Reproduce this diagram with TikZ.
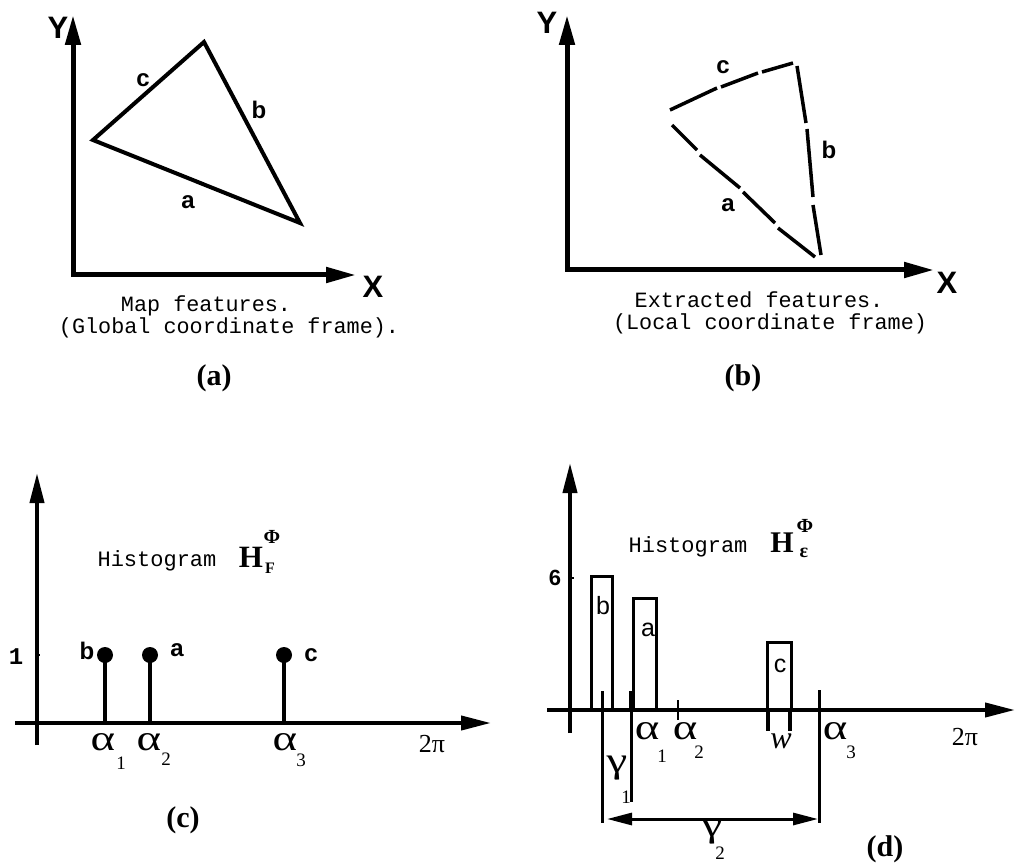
\documentclass[tikz,border=0pt]{standalone}
\usepackage{fontspec}
\setmainfont{Liberation Serif}
\setsansfont{Liberation Sans}
\setmonofont{Liberation Mono}
\usetikzlibrary{arrows.meta}
\newcommand{\fs}[1]{\fontsize{#1}{#1}\selectfont}
\newcommand{\wideg}[1]{\scalebox{1.3}[1]{#1}}
\begin{document}
\begin{tikzpicture}[x=1pt,y=-1pt,
  axispair/.style={line width=5pt,line join=miter,{Triangle[length=30pt,width=15pt]}-{Triangle[length=30pt,width=15pt]}},
  axisone/.style={line width=4pt,-{Triangle[length=30pt,width=14pt]}},
  edge/.style={line width=4pt,line join=miter},
  dashseg/.style={line width=3.5pt},
  stem/.style={line width=3.3pt},
  dot/.style={circle,fill=black,inner sep=0pt,minimum size=16pt},
  bar/.style={line width=3pt,line join=miter},
  markline/.style={line width=3pt},
  txt/.style={inner sep=0pt},
  axlab/.style={txt,font=\sffamily\bfseries\fs{31}},
  edgelab/.style={txt,font=\sffamily\bfseries\fs{24}},
  barlab/.style={txt,font=\sffamily\fs{25}},
  captxt/.style={txt,anchor=base,font=\ttfamily\fs{21.8}},
  panel/.style={txt,font=\bfseries\fs{30}},
  greek/.style={txt,font=\fs{36}},
  sub/.style={txt,font=\fs{19}},
  twopi/.style={txt,font=\fs{26}}]
\useasboundingbox (0,0) rectangle (1016,866);

% ---------- panel (a) ----------
\coordinate (aY) at (73,15);
\coordinate (aO) at (73,275);
\coordinate (aX) at (356,275);
\draw[axispair] (aY) -- (aO) -- (aX);
\node[axlab] (aYl) at (58,28) {Y};
\node[axlab] (aXl) at (373,287) {X};
\coordinate (t1) at (93,140);
\coordinate (t2) at (204,42);
\coordinate (t3) at (300,223);
\draw[edge] (t1) -- (t2) -- (t3) -- cycle;
\node[edgelab] (ac) at (143,80) {c};
\node[edgelab] (ab) at (259,110) {b};
\node[edgelab] (aa) at (188,202) {a};
\node[captxt] (acap1) at (206,312) {Map features.};
\node[captxt] (acap2) at (229,333) {(Global coordinate frame).};
\node[panel] (alab) at (214,378) {(a)};

% ---------- panel (b) ----------
\coordinate (bY) at (567,15);
\coordinate (bO) at (567,270);
\coordinate (bX) at (934,270);
\draw[axispair] (bY) -- (bO) -- (bX);
\node[axlab] (bYl) at (547,23) {Y};
\node[axlab] (bXl) at (947,283) {X};
% edge c
\coordinate (c1) at (670,110); \coordinate (c2) at (717,88);
\coordinate (c3) at (721,87);  \coordinate (c4) at (758,73);
\coordinate (c5) at (762,72);  \coordinate (c6) at (793,63);
\draw[dashseg] (c1) -- (c2);
\draw[dashseg] (c3) -- (c4);
\draw[dashseg] (c5) -- (c6);
% edge b
\coordinate (b1) at (797,66);  \coordinate (b2) at (806,123);
\coordinate (b3) at (807,129); \coordinate (b4) at (813,197);
\coordinate (b5) at (813,205); \coordinate (b6) at (821,255);
\draw[dashseg] (b1) -- (b2);
\draw[dashseg] (b3) -- (b4);
\draw[dashseg] (b5) -- (b6);
% edge a
\coordinate (a1) at (672,125); \coordinate (a2) at (697,150);
\coordinate (a3) at (700,155); \coordinate (a4) at (740,188);
\coordinate (a5) at (743,192); \coordinate (a6) at (775,223);
\coordinate (a7) at (778,228); \coordinate (a8) at (815,257);
\draw[dashseg] (a1) -- (a2);
\draw[dashseg] (a3) -- (a4);
\draw[dashseg] (a5) -- (a6);
\draw[dashseg] (a7) -- (a8);
\node[edgelab] (bc) at (723,67) {c};
\node[edgelab] (bb) at (829,150) {b};
\node[edgelab] (ba) at (728,205) {a};
\node[captxt] (bcap1) at (759,308) {Extracted features.};
\node[captxt] (bcap2) at (770,329) {(Local coordinate frame)};
\node[panel] (blab) at (743,378) {(b)};

% ---------- panel (c) ----------
\coordinate (cYb) at (37,745);
\coordinate (cYt) at (37,473);
\coordinate (cXl) at (15,723);
\coordinate (cXr) at (491,723);
\draw[axisone] (cYb) -- (cYt);
\draw[axisone] (cXl) -- (cXr);
\coordinate (one) at (37,655);
\draw[line width=1.5pt] (one) -- ++(3,0);
\coordinate (s1) at (105,723);
\coordinate (s2) at (150,723);
\coordinate (s3) at (284,723);
\node[dot] (p1) at (105,655) {};
\node[dot] (p2) at (150,655) {};
\node[dot] (p3) at (284,655) {};
\draw[stem] (s1) -- (p1.center);
\draw[stem] (s2) -- (p2.center);
\draw[stem] (s3) -- (p3.center);
\node[txt,font=\ttfamily\bfseries\fs{24}] (cone) at (16,657) {1};
\node[edgelab] (cb) at (87,651) {b};
\node[edgelab] (ca) at (177,650) {a};
\node[edgelab] (cc) at (311,655) {c};
\node[greek] (ca1) at (103,742) {\wideg{α}};
\node[sub] (ca1s) at (121,763) {1};
\node[greek] (ca2) at (149,742) {\wideg{α}};
\node[sub] (ca2s) at (166,759) {2};
\node[greek] (ca3) at (285,742) {\wideg{α}};
\node[sub] (ca3s) at (301,760) {3};
\node[twopi] (cpi) at (432,744) {2π};
\node[txt,anchor=base,font=\ttfamily\fs{22}] (chist) at (157,566) {Histogram};
\node[txt,font=\bfseries\fs{31}] (cH) at (251,557) {H};
\node[txt,font=\bfseries\fs{20}] (cPhi) at (272,537) {Φ};
\node[txt,font=\bfseries\fs{16}] (cF) at (270,568) {F};
\node[panel] (clab) at (183,820) {(c)};

% ---------- panel (d) ----------
\coordinate (dYb) at (570,733);
\coordinate (dYt) at (570,463);
\coordinate (dXl) at (547,710);
\coordinate (dXr) at (1015,710);
\draw[axisone] (dYb) -- (dYt);
\draw[axisone] (dXl) -- (dXr);
\coordinate (six) at (570,578);
\draw[line width=1.5pt] (six) -- ++(4,0);
\node[txt,font=\sffamily\bfseries\fs{22}] (dsix) at (555,578) {6};
% bars
\draw[bar] (591,710) -- (591,576) -- (612,576) -- (612,710);
\draw[bar] (633,710) -- (633,598) -- (656,598) -- (656,710);
\draw[bar] (767,710) -- (767,642) -- (791,642) -- (791,710);
\node[barlab] (db) at (603,606) {b};
\node[barlab] (da) at (648,630) {a};
\node[barlab] (dc) at (780,666) {c};
% marker lines
\coordinate (g1t) at (602,691); \coordinate (g1b) at (602,823);
\coordinate (g2t) at (631,691); \coordinate (g2b) at (631,802);
\coordinate (g3t) at (819,690); \coordinate (g3b) at (819,823);
\draw[markline] (g1t) -- (g1b);
\draw[markline] (g2t) -- (g2b);
\draw[line width=4.5pt] (g2t) -- (631,712);
\draw[markline] (g3t) -- (g3b);
\coordinate (al2t) at (678,700); \coordinate (al2b) at (678,720);
\draw[line width=2.5pt] (al2t) -- (al2b);
\coordinate (w1t) at (768,710); \coordinate (w1b) at (768,731);
\coordinate (w2t) at (790,710); \coordinate (w2b) at (790,731);
\draw[line width=4.5pt] (w1t) -- (w1b);
\draw[line width=4.5pt] (w2t) -- (w2b);
% gamma2 double arrow
\coordinate (gl) at (607,819);
\coordinate (gr) at (818,819);
\draw[line width=3pt,{Triangle[length=25pt,width=12pt]}-{Triangle[length=25pt,width=12pt]}] (gl) -- (gr);
\node[greek] (da1) at (647,731) {\wideg{α}};
\node[sub] (da1s) at (662,756) {1};
\node[greek] (da2) at (685,731) {\wideg{α}};
\node[sub] (da2s) at (699,752) {2};
\node[greek] (da3) at (835,731) {\wideg{α}};
\node[sub] (da3s) at (851,752) {3};
\node[txt,font=\itshape\fs{32}] (dw) at (781,741) {w};
\node[twopi] (dpi) at (965,737) {2π};
\node[greek] (dg1) at (617,768) {\wideg{γ}};
\node[sub] (dg1s) at (626,797) {1};
\node[greek] (dg2) at (712,832) {\wideg{γ}};
\node[sub] (dg2s) at (720,853) {2};
\node[txt,anchor=base,font=\ttfamily\fs{22}] (dhist) at (688,552) {Histogram};
\node[txt,font=\bfseries\fs{30}] (dH) at (782,543) {H};
\node[txt,font=\bfseries\fs{20}] (dPhi) at (805,526) {Φ};
\node[txt,font=\bfseries\fs{20}] (dE) at (804,553) {ε};
\node[panel] (dlab) at (885,849) {(d)};
\end{tikzpicture}
\end{document}
